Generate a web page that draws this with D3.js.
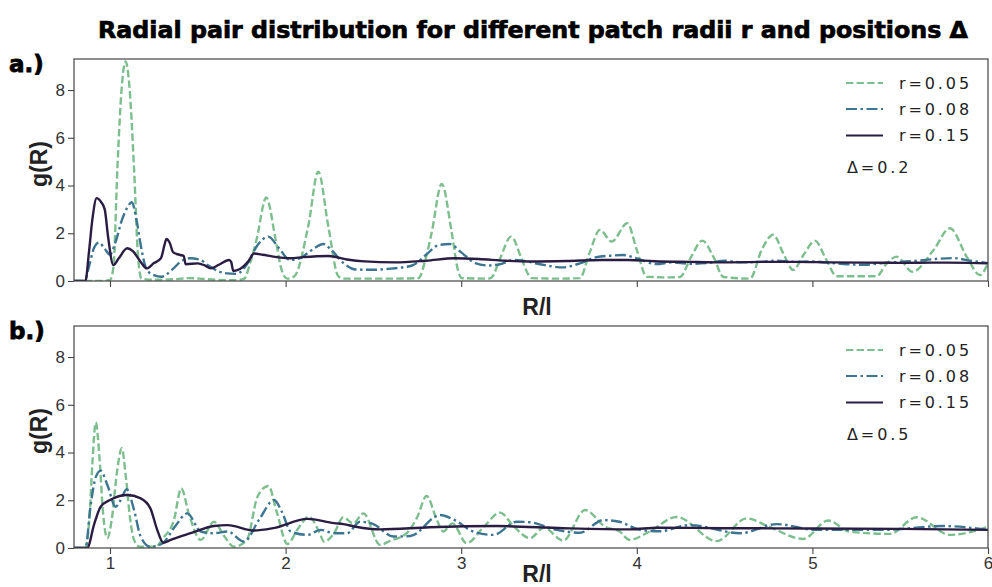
<!DOCTYPE html>
<html><head><meta charset="utf-8">
<script src="https://cdn.jsdelivr.net/npm/d3@7"></script>
<style>
html,body{margin:0;padding:0;background:#fff;}
svg{display:block;}
</style></head>
<body>
<svg id="chart" width="992" height="587"></svg>
<script>
// ---------- DATA ----------
const title = "Radial pair distribution for different patch radii r and positions \u0394";
const xTicks = [1, 2, 3, 4, 5, 6];
const yTicks = [0, 2, 4, 6, 8];
const seriesNames = ["r=0.05", "r=0.08", "r=0.15"];
const panelLabels = ["a.)", "b.)"];
const deltaLabels = ["\u0394=0.2", "\u0394=0.5"];

// Panel a (Δ = 0.2)
const a05_x = [0.795,0.95,1.0,1.02,1.042,1.07,1.089,1.11,1.137,1.16,1.18,1.25,1.38,1.45,1.51,1.6,1.72,1.765,1.80,1.835,1.89,1.943,1.98,2.01,2.05,2.129,2.186,2.243,2.30,2.33,2.45,2.6,2.756,2.80,2.832,2.889,2.946,2.98,3.003,3.15,3.173,3.221,3.284,3.344,3.38,3.401,3.55,3.676,3.73,3.79,3.857,3.946,4.0,4.056,4.19,4.246,4.31,4.373,4.436,4.493,4.645,4.711,4.777,4.834,4.891,4.95,5.015,5.08,5.138,5.366,5.42,5.48,5.57,5.69,5.783,5.88,5.954,6.0];
const a05_g = [0,0,0.05,0.6,4.7,8.4,9.2,8.2,4.7,1.0,0.1,0.05,0.08,0.12,0.1,0.05,0.03,0.1,0.8,1.75,3.5,1.75,0.4,0.1,0.2,2.3,4.58,2.3,0.2,0.1,0.1,0.1,0.12,1.0,2.03,4.07,2.03,0.5,0.12,0.1,0.15,0.93,1.86,0.93,0.3,0.12,0.1,0.12,1.16,2.14,1.65,2.42,1.3,0.18,0.15,0.17,1.02,1.69,1.02,0.17,0.1,1.3,1.94,1.16,0.46,1.1,1.68,0.88,0.2,0.2,0.7,1.02,0.39,1.3,2.21,1.0,0.25,0.75];
const a08_x = [0.795,0.855,0.88,0.91,0.937,0.97,1.0,1.03,1.07,1.10,1.124,1.15,1.18,1.21,1.25,1.294,1.35,1.41,1.455,1.51,1.56,1.62,1.665,1.72,1.78,1.84,1.902,1.96,2.025,2.08,2.15,2.215,2.26,2.33,2.40,2.5,2.6,2.72,2.8,2.87,2.936,3.0,3.08,3.153,3.22,3.3,3.35,3.45,3.58,3.68,3.77,3.85,3.92,4.0,4.11,4.2,4.3,4.4,4.5,4.6,4.7,4.8,4.9,5.0,5.1,5.2,5.3,5.4,5.5,5.6,5.7,5.8,5.9,6.0];
const a08_g = [0,0,0.6,1.4,1.61,1.35,1.1,1.6,2.6,3.1,3.3,2.6,1.3,0.46,0.25,0.18,0.45,0.85,0.95,0.9,0.65,0.4,0.32,0.3,0.7,1.5,1.86,1.4,0.88,0.95,1.3,1.55,1.3,0.75,0.48,0.47,0.52,0.65,1.1,1.5,1.55,1.2,0.75,0.65,0.7,0.88,0.85,0.7,0.57,0.75,1.0,1.06,1.09,0.95,0.71,0.78,0.72,0.75,0.85,0.78,0.8,0.85,0.8,0.82,0.76,0.7,0.68,0.75,0.8,0.85,0.92,0.96,0.85,0.75];
const a15_x = [0.795,0.86,0.88,0.90,0.924,0.95,0.97,0.99,1.019,1.05,1.098,1.13,1.17,1.209,1.25,1.29,1.31,1.321,1.34,1.36,1.40,1.42,1.431,1.5,1.54,1.573,1.62,1.678,1.69,1.702,1.74,1.79,1.82,1.87,1.93,2.029,2.1,2.243,2.35,2.45,2.623,2.8,2.965,3.1,3.25,3.4,3.6,3.8,3.95,4.1,4.3,4.5,4.7,4.9,5.1,5.3,5.5,5.7,5.9,6.0];
const a15_g = [0,0,1.2,2.6,3.47,3.3,3.0,1.8,0.67,0.95,1.37,1.25,0.85,0.53,0.75,0.95,1.5,1.76,1.6,1.2,1.09,1.05,0.7,0.74,0.65,0.53,0.68,0.88,0.8,0.42,0.5,0.85,1.15,1.1,1.02,0.95,1.0,1.05,0.9,0.82,0.78,0.85,0.95,0.92,0.85,0.82,0.84,0.88,0.88,0.83,0.8,0.78,0.8,0.8,0.78,0.77,0.76,0.77,0.76,0.74];

// Panel b (Δ = 0.5)
const b05_x = [0.795,0.86,0.885,0.90,0.919,0.94,0.96,0.985,1.01,1.04,1.067,1.09,1.115,1.137,1.17,1.26,1.30,1.364,1.406,1.45,1.517,1.592,1.65,1.706,1.78,1.84,1.902,1.95,2.01,2.07,2.133,2.19,2.22,2.276,2.329,2.385,2.443,2.538,2.595,2.69,2.75,2.803,2.86,2.898,2.95,3.031,3.13,3.221,3.30,3.392,3.47,3.581,3.705,3.82,3.90,3.96,4.07,4.227,4.455,4.626,4.75,4.948,5.09,5.21,5.44,5.594,5.783,6.0];
const b05_g = [0,0,1.5,3.6,5.26,3.8,1.5,0.41,1.2,3.2,4.18,3.0,1.2,0.34,0.05,0.05,0.4,1.17,2.5,1.4,0.34,1.1,0.5,0.05,0.34,2.15,2.6,1.5,0.17,0.8,1.31,0.7,0.26,0.62,1.29,1.03,1.45,0.13,0.3,0.62,1.3,2.18,1.2,0.69,1.03,0.2,0.9,1.48,0.9,0.41,0.85,0.31,1.59,0.89,0.7,0.34,0.68,1.3,0.29,1.24,0.9,0.38,1.15,0.69,0.59,1.29,0.55,0.89];
const b08_x = [0.795,0.86,0.89,0.92,0.947,0.985,1.032,1.06,1.095,1.137,1.175,1.23,1.30,1.37,1.44,1.517,1.592,1.67,1.763,1.85,1.934,1.98,2.029,2.124,2.2,2.276,2.35,2.424,2.5,2.614,2.71,2.879,2.955,3.069,3.183,3.316,3.39,3.543,3.676,3.81,3.90,4.018,4.13,4.30,4.59,4.797,5.02,5.40,5.745,6.0];
const b08_g = [0,0,1.8,2.99,3.24,2.64,1.73,2.0,2.46,1.59,0.47,0.05,0.2,0.9,1.45,0.69,0.62,0.69,0.27,1.2,2.01,1.5,0.69,0.55,0.76,0.62,0.62,1.1,1.0,0.48,0.5,1.38,1.2,0.69,0.55,1.1,1.08,0.76,0.64,1.17,1.1,0.76,0.7,0.96,0.62,1.0,0.76,0.76,0.92,0.76];
const b15_x = [0.795,0.87,0.91,0.947,1.0,1.098,1.175,1.23,1.269,1.303,1.345,1.46,1.592,1.67,1.82,1.93,2.124,2.276,2.329,2.40,2.538,2.82,3.202,3.58,3.96,4.12,4.5,5.0,5.5,6.0];
const b15_g = [0,0,1.0,1.73,2.01,2.22,2.08,1.66,0.76,0.22,0.34,0.62,0.92,0.96,0.73,0.83,1.22,1.04,1.0,0.89,0.78,0.87,0.92,0.83,0.78,0.85,0.83,0.82,0.8,0.76];

// ---------- STYLE ----------
const colors = ["#7dbe8f", "#3b7591", "#2a1c42"];
const dashes = ["7.4,3.2", "11,3.5,2.5,3.5", null];
const panels = [
  {top: 59, bottom: 281, series: [[a05_x,a05_g],[a08_x,a08_g],[a15_x,a15_g]], label: panelLabels[0], delta: deltaLabels[0], tickLabels: false},
  {top: 326, bottom: 548, series: [[b05_x,b05_g],[b08_x,b08_g],[b15_x,b15_g]], label: panelLabels[1], delta: deltaLabels[1], tickLabels: true}
];
const left = 74, right = 988;
const svg = d3.select("#chart");
const x = d3.scaleLinear().domain([0.795, 6]).range([left, right]);

svg.append("text").attr("x", 98).attr("y", 38).attr("text-anchor", "start")
  .attr("textLength", 870).attr("lengthAdjust", "spacingAndGlyphs")
  .style("font-family", "DejaVu Sans").style("font-weight", "bold").style("font-size", "23px")
  .style("fill", "#000").style("stroke", "#000").style("stroke-width", "0.7px").text(title);

panels.forEach((p, pi) => {
  const y = d3.scaleLinear().domain([0, 9.3]).range([p.bottom, p.top]);
  const g = svg.append("g");
  const clipId = "clip" + pi;
  svg.append("clipPath").attr("id", clipId).append("rect")
    .attr("x", left).attr("y", p.top).attr("width", right - left).attr("height", p.bottom - p.top);

  // axes
  const xAxis = d3.axisBottom(x).tickValues(xTicks).tickSize(6).tickPadding(3)
    .tickFormat(p.tickLabels ? d3.format("d") : () => "");
  const xg = g.append("g").attr("transform", `translate(0,${p.bottom})`).call(xAxis);
  const yAxis = d3.axisLeft(y).tickValues(yTicks).tickSize(6).tickPadding(3).tickFormat(d3.format("d"));
  const yg = g.append("g").attr("transform", `translate(${left},0)`).call(yAxis);
  [xg, yg].forEach(a => {
    a.select(".domain").remove();
    a.selectAll(".tick line").attr("stroke", "#444").attr("stroke-width", 1.1);
    a.selectAll(".tick text").style("font-family", "Liberation Sans, Arial, sans-serif")
      .style("font-size", "17px").style("fill", "#333");
  });

  // lines
  const line = d3.line().x((d) => x(d[0])).y((d) => y(d[1])).curve(d3.curveMonotoneX);
  p.series.forEach((s, si) => {
    const pts = s[0].map((v, i) => [v, s[1][i]]);
    const path = g.append("path").datum(pts).attr("d", line)
      .attr("fill", "none").attr("stroke", colors[si]).attr("stroke-width", 2.4)
      .attr("clip-path", `url(#${clipId})`);
    if (dashes[si]) path.attr("stroke-dasharray", dashes[si]);
  });

  // frame
  g.append("rect").attr("x", left).attr("y", p.top).attr("width", right - left).attr("height", p.bottom - p.top)
    .attr("fill", "none").attr("stroke", "#444").attr("stroke-width", 1.2);

  // legend
  const rows = [24, 50, 76.5];
  seriesNames.forEach((n, si) => {
    const ly = p.top + rows[si];
    const l = g.append("line").attr("x1", 846).attr("x2", 883).attr("y1", ly).attr("y2", ly)
      .attr("stroke", colors[si]).attr("stroke-width", 2.2);
    if (dashes[si]) l.attr("stroke-dasharray", dashes[si]);
    g.append("text").attr("x", 899).attr("y", ly).attr("dy", "0.35em")
      .style("font-family", "DejaVu Sans").style("font-size", "16px").style("letter-spacing", "2.9px")
      .style("fill", "#222").text(n);
  });
  g.append("text").attr("x", 847).attr("y", p.top + 108.5).attr("dy", "0.35em")
    .style("font-family", "DejaVu Sans").style("font-size", "16px").style("letter-spacing", "2.9px")
    .style("fill", "#222").text(p.delta);

  // labels
  g.append("text").attr("transform", `translate(47,${(p.top + p.bottom) / 2 - 6}) rotate(-90)`)
    .attr("text-anchor", "middle")
    .style("font-family", "Liberation Sans, Arial, sans-serif").style("font-weight", "bold").style("font-size", "23px")
    .style("fill", "#222").text("g(R)");
  g.append("text").attr("x", 537).attr("y", p.bottom + 34).attr("text-anchor", "middle")
    .style("font-family", "Liberation Sans, Arial, sans-serif").style("font-weight", "bold").style("font-size", "23px")
    .style("fill", "#222").text("R/l");
  g.append("text").attr("x", 9).attr("y", p.top + 13).attr("text-anchor", "start")
    .style("font-family", "DejaVu Sans").style("font-weight", "bold").style("font-size", "23px")
    .style("fill", "#000").style("stroke", "#000").style("stroke-width", "0.8px").text(p.label);
});
</script>
</body></html>
